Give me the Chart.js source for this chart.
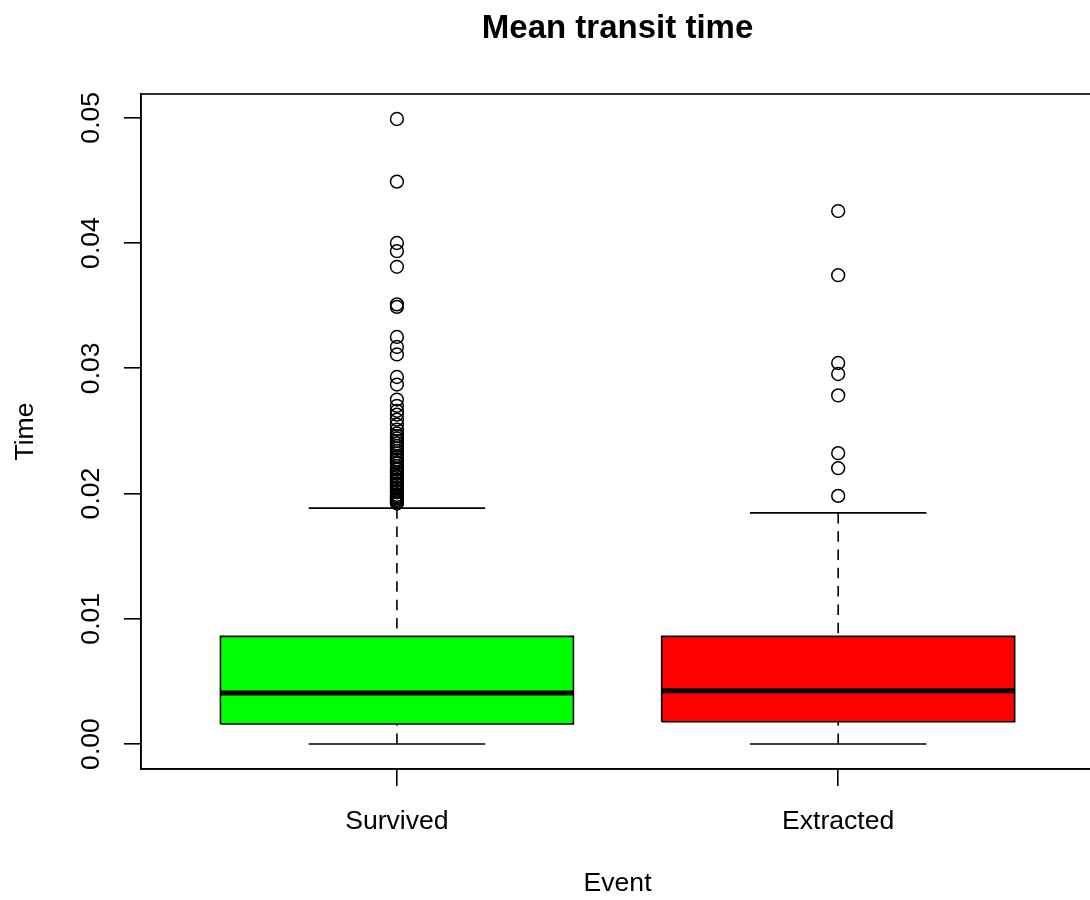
<!DOCTYPE html>
<html>
<head>
<meta charset="utf-8">
<title>Mean transit time</title>
<script src="https://cdn.jsdelivr.net/npm/chart.js@4/dist/chart.umd.min.js"></script>
<style>
  html, body { margin: 0; padding: 0; background: #ffffff; overflow: hidden; }
  #wrap { width: 1102px; height: 900px; }
  canvas { display: block; }
</style>
</head>
<body>
<div id="wrap"><canvas id="c" width="1102" height="900"></canvas></div>
<script>
// ---- data ----
const categories = ['Survived', 'Extracted'];
const lowerWhisker = [0.0, 0.0];
const q1 = [0.00160, 0.00178];
const median = [0.00408, 0.00425];
const q3 = [0.00859, 0.00859];
const upperWhisker = [0.01883, 0.01845];
const survivedOutliers = [
  0.0499, 0.0449, 0.0400, 0.03935, 0.0381, 0.0351, 0.0349, 0.0325, 0.0317, 0.0311,
  0.0293, 0.0287, 0.0275, 0.0270, 0.0266, 0.0263, 0.0259, 0.0255, 0.0251, 0.0248,
  0.0246, 0.0244, 0.0242, 0.0240, 0.0238, 0.0236, 0.0234, 0.0232, 0.0230, 0.0229,
  0.0227, 0.0225, 0.0224, 0.0222, 0.0220, 0.0219, 0.0217, 0.0216, 0.0214, 0.0213,
  0.0211, 0.0210, 0.0208, 0.0207, 0.0205, 0.0204, 0.0202, 0.0201, 0.0199, 0.0198,
  0.0197, 0.0196, 0.0195, 0.0194, 0.0193, 0.0192
];
const extractedOutliers = [0.04255, 0.03743, 0.03042, 0.02954, 0.02783, 0.02322, 0.02202, 0.01981];
const yTicks = [0.00, 0.01, 0.02, 0.03, 0.04, 0.05];
const boxColors = ['#00ff00', '#ff0000'];
const titleText = 'Mean transit time';
const xTitle = 'Event';
const yTitle = 'Time';

// ---- styling constants (R boxplot defaults) ----
const BOX_HALF = 0.4;   // boxwex 0.8
const CAP_HALF = 0.2;   // staplewex 0.5
const FONT = "'Liberation Sans', Arial, Helvetica, sans-serif";
const LW = 1.6;

const outlierSets = [survivedOutliers, extractedOutliers];

// axis ranges as R computes them (4% extension)
const allVals = [].concat(lowerWhisker, upperWhisker, survivedOutliers, extractedOutliers);
const yLo = Math.min.apply(null, allVals), yHi = Math.max.apply(null, allVals);
const yPad = 0.04 * (yHi - yLo);
const xLo = 0.5, xHi = categories.length + 0.5;
const xPad = 0.04 * (xHi - xLo);

const datasets = [];
categories.forEach((name, i) => {
  const c = i + 1;
  datasets.push({
    label: name + ' box',
    data: [
      {x: c - BOX_HALF, y: q1[i]}, {x: c + BOX_HALF, y: q1[i]},
      {x: c + BOX_HALF, y: q3[i]}, {x: c - BOX_HALF, y: q3[i]},
      {x: c - BOX_HALF, y: q1[i]}
    ],
    fill: 'shape', backgroundColor: boxColors[i], borderColor: '#000', borderWidth: LW,
    borderJoinStyle: 'miter', pointRadius: 0, tension: 0, order: 2
  });
  datasets.push({
    label: name + ' median',
    data: [{x: c - BOX_HALF, y: median[i]}, {x: c + BOX_HALF, y: median[i]}],
    fill: false, borderColor: '#000', borderWidth: 5, pointRadius: 0, order: 1
  });
  datasets.push({
    label: name + ' upper whisker',
    data: [{x: c, y: upperWhisker[i]}, {x: c, y: q3[i]}],
    fill: false, borderColor: '#000', borderWidth: LW, borderDash: [10.5, 7.8], pointRadius: 0, order: 3
  });
  datasets.push({
    label: name + ' lower whisker',
    data: [{x: c, y: lowerWhisker[i]}, {x: c, y: q1[i]}],
    fill: false, borderColor: '#000', borderWidth: LW, borderDash: [10.5, 7.8], pointRadius: 0, order: 3
  });
  datasets.push({
    label: name + ' upper staple',
    data: [{x: c - CAP_HALF, y: upperWhisker[i]}, {x: c + CAP_HALF, y: upperWhisker[i]}],
    fill: false, borderColor: '#000', borderWidth: LW, pointRadius: 0, order: 3
  });
  datasets.push({
    label: name + ' lower staple',
    data: [{x: c - CAP_HALF, y: lowerWhisker[i]}, {x: c + CAP_HALF, y: lowerWhisker[i]}],
    fill: false, borderColor: '#000', borderWidth: LW, pointRadius: 0, order: 3
  });
  datasets.push({
    label: name + ' outliers',
    data: outlierSets[i].map(v => ({x: c, y: v})),
    showLine: false, fill: false, pointStyle: 'circle', pointRadius: 6.4,
    pointBorderWidth: 1.5, pointBorderColor: '#000', pointBackgroundColor: 'rgba(0,0,0,0)',
    order: 0
  });
});

const framePlugin = {
  id: 'frame',
  afterDraw(chart) {
    const a = chart.chartArea, ctx = chart.ctx;
    ctx.save();
    ctx.strokeStyle = '#000';
    ctx.lineWidth = LW;
    ctx.strokeRect(a.left, a.top, a.right - a.left, a.bottom - a.top);
    ctx.restore();
  }
};

new Chart(document.getElementById('c'), {
  type: 'line',
  data: { datasets },
  plugins: [framePlugin],
  options: {
    responsive: false,
    animation: false,
    events: [],
    layout: { padding: { left: 0, right: 6, top: 0, bottom: 0 } },
    plugins: {
      legend: { display: false },
      tooltip: { enabled: false },
      title: {
        display: true, text: titleText, color: '#000', fullSize: false,
        font: { family: FONT, size: 33, weight: 'bold', lineHeight: 1.2 },
        padding: { top: 9, bottom: 45.4 }
      }
    },
    scales: {
      x: {
        type: 'linear', position: 'bottom',
        min: xLo - xPad, max: xHi + xPad,
        afterBuildTicks(scale) { scale.ticks = categories.map((_, i) => ({ value: i + 1 })); },
        afterFit(scale) { scale.height = 131; },
        ticks: {
          callback: (v, i) => categories[i],
          color: '#000', font: { family: FONT, size: 26.6 }, padding: 20,
          maxRotation: 0, minRotation: 0, autoSkip: false
        },
        grid: { display: true, drawOnChartArea: false, drawTicks: true, tickLength: 17, color: '#000', lineWidth: LW },
        border: { display: true, color: '#000', width: LW },
        title: { display: true, text: xTitle, color: '#000', font: { family: FONT, size: 26.6 }, padding: { top: 0, bottom: 0 } }
      },
      y: {
        type: 'linear', position: 'left',
        min: yLo - yPad, max: yHi + yPad,
        afterBuildTicks(scale) { scale.ticks = yTicks.map(v => ({ value: v })); },
        afterFit(scale) { scale.width = 141; },
        ticks: {
          callback: (v) => Number(v).toFixed(2),
          color: '#000', font: { family: FONT, size: 26.6 }, padding: 6,
          minRotation: 90, maxRotation: 90, crossAlign: 'center', autoSkip: false
        },
        grid: { display: true, drawOnChartArea: false, drawTicks: true, tickLength: 17, color: '#000', lineWidth: LW },
        border: { display: true, color: '#000', width: LW },
        title: { display: true, text: yTitle, color: '#000', font: { family: FONT, size: 26.6 }, padding: { top: 10, bottom: 0 } }
      }
    }
  }
});
</script>
</body>
</html>
